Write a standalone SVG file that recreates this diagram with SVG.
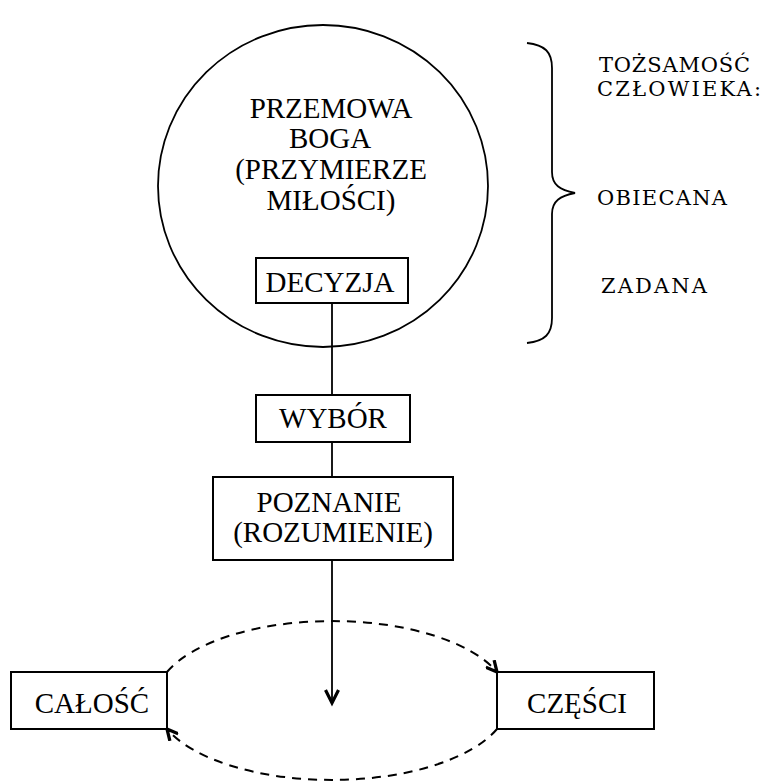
<svg xmlns="http://www.w3.org/2000/svg" width="761" height="782" viewBox="0 0 761 782">
<defs>
<style>
.box{fill:#fff;stroke:#000;stroke-width:2}
.t{font-family:"Liberation Serif","Times New Roman",serif;font-size:29px;fill:#000;text-anchor:middle}
.s{font-family:"DejaVu Serif","Liberation Serif",serif;font-size:21px;fill:#000}
.ln{stroke:#000;stroke-width:1.8;fill:none}
.dash{stroke:#000;stroke-width:2;fill:none;stroke-dasharray:9 7}
</style>
<marker id="chev" viewBox="0 0 12 12" refX="11" refY="6" markerWidth="13" markerHeight="13" markerUnits="userSpaceOnUse" orient="auto">
<path d="M1,1 L11,6 L1,11" fill="none" stroke="#000" stroke-width="3"/>
</marker>
</defs>
<rect width="761" height="782" fill="#fff"/>

<g id="circle-node">
<ellipse cx="323" cy="186" rx="165" ry="161" class="ln"/>
<text class="t" x="331" y="118">PRZEMOWA</text>
<text class="t" x="330" y="148">BOGA</text>
<text class="t" x="331" y="179">(PRZYMIERZE</text>
<text class="t" x="331" y="210">MIŁOŚCI)</text>
</g>

<g id="connectors">
<line x1="332" y1="303" x2="332" y2="395" class="ln"/>
<line x1="332" y1="442" x2="332" y2="477" class="ln"/>
<line x1="332" y1="560" x2="332" y2="703" class="ln"/>
<path d="M325.5,690 L332,703 L338.5,690" fill="none" stroke="#000" stroke-width="3.2"/>
<path d="M167,672 A176.5,79 0 0 1 497,672" class="dash" marker-end="url(#chev)"/>
<path d="M497,729 A176.5,79 0 0 1 167,729" class="dash" marker-end="url(#chev)"/>
</g>

<g id="decyzja">
<rect x="256" y="258" width="152" height="45" class="box"/>
<text class="t" x="330" y="292">DECYZJA</text>
</g>

<g id="wybor">
<rect x="256" y="395" width="154" height="47" class="box"/>
<text class="t" x="333" y="428">WYBÓR</text>
</g>

<g id="poznanie">
<rect x="213" y="477" width="240" height="83" class="box"/>
<text class="t" x="329" y="512">POZNANIE</text>
<text class="t" x="333" y="542">(ROZUMIENIE)</text>
</g>

<g id="calosc">
<rect x="11" y="672" width="156" height="57" class="box"/>
<text class="t" x="92" y="713">CAŁOŚĆ</text>
</g>

<g id="czesci">
<rect x="497" y="672" width="157" height="57" class="box"/>
<text class="t" x="577" y="713">CZĘŚCI</text>
</g>

<g id="brace">
<path d="M527,43 C545,45 552,52 552,68 L552,172 C552,185 560,190 575,193 C560,196 552,201 552,214 L552,318 C552,334 545,341 527,343" class="ln"/>
</g>

<g id="labels">
<text class="s" x="599" y="72" textLength="151" lengthAdjust="spacing">TOŻSAMOŚĆ</text>
<text class="s" x="597" y="96" textLength="164" lengthAdjust="spacing">CZŁOWIEKA:</text>
<text class="s" x="597" y="205" textLength="130" lengthAdjust="spacing">OBIECANA</text>
<text class="s" x="601" y="293" textLength="106" lengthAdjust="spacing">ZADANA</text>
</g>
</svg>
